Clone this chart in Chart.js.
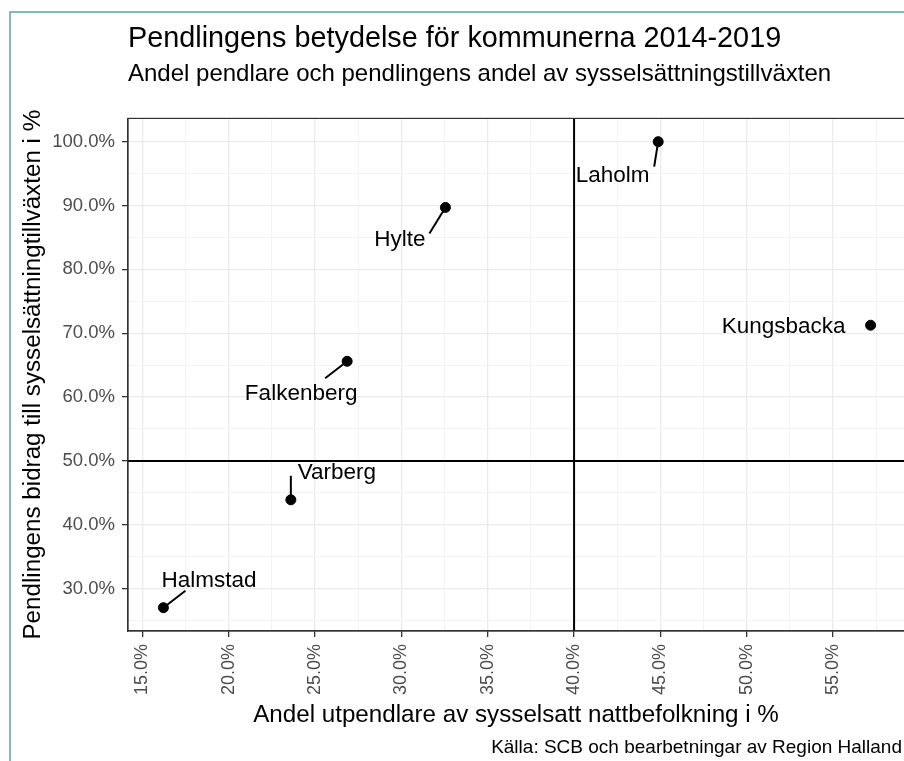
<!DOCTYPE html>
<html>
<head>
<meta charset="utf-8">
<script src="https://cdn.jsdelivr.net/npm/chart.js@4.4.1/dist/chart.umd.min.js"></script>
<style>
  html, body { margin: 0; padding: 0; background: #fff; overflow: hidden; }
  #wrap { position: relative; width: 912px; height: 761px; }
</style>
</head>
<body>
<div id="wrap"><canvas id="myChart" width="912" height="761"></canvas></div>
<script>
// data
const kommuner = ['Laholm', 'Hylte', 'Kungsbacka', 'Falkenberg', 'Varberg', 'Halmstad'];
const utpendlare = [44.87, 32.55, 57.17, 26.86, 23.6, 16.22];   // x, %
const bidrag = [100.0, 89.7, 71.25, 65.6, 43.9, 27.0];            // y, %
const xTicks = [15, 20, 25, 30, 35, 40, 45, 50, 55];
const yTicks = [30, 40, 50, 60, 70, 80, 90, 100];
const refX = 40;
const refY = 50;

const titleText = 'Pendlingens betydelse för kommunerna 2014-2019';
const subtitleText = 'Andel pendlare och pendlingens andel av sysselsättningstillväxten';
const xTitle = 'Andel utpendlare av sysselsatt nattbefolkning i %';
const yTitle = 'Pendlingens bidrag till sysselsättningtillväxten i %';
const caption = 'Källa: SCB och bearbetningar av Region Halland';

// label placement (pixels relative to the point): text centre x, baseline y, segment end
const labelPos = [
  { dx: -45.5, dy: 40, seg: [-4, 25] },
  { dx: -45.5, dy: 39, seg: [-16, 26] },
  { dx: -87, dy: 8, seg: null },
  { dx: -46, dy: 39, seg: [-22, 17] },
  { dx: 46, dy: -21, seg: [0, -24] },
  { dx: 45.5, dy: -21, seg: [22, -17] }
];

const FONT = '"Liberation Sans", Arial, sans-serif';
const xMin = 14.17, xMax = 59.22;
const yMin = 23.35, yMax = 103.65;

const points = utpendlare.map((v, i) => ({ x: v, y: bidrag[i] }));

function stepTicks(min, max, step) {
  const out = [];
  for (let v = Math.ceil(min / step) * step; v <= max + 1e-9; v += step) out.push({ value: +v.toFixed(2) });
  return out;
}
function isMajor(v, list) { return list.some(t => Math.abs(t - v) < 1e-6); }

const decorPlugin = {
  id: 'decor',
  beforeDraw(chart) {
    const c = chart.ctx;
    c.save();
    c.fillStyle = '#fff';
    c.fillRect(0, 0, chart.width, chart.height);
    // frame
    c.strokeStyle = '#55a79f';
    c.lineWidth = 1.5;
    c.beginPath();
    c.moveTo(10, chart.height);
    c.lineTo(10, 12);
    c.lineTo(chart.width, 12);
    c.stroke();
    c.restore();
  },
  afterDraw(chart) {
    const c = chart.ctx;
    const xs = chart.scales.x, ys = chart.scales.y;
    const area = chart.chartArea;
    c.save();
    // panel border
    c.strokeStyle = '#333';
    c.lineWidth = 1.2;
    c.strokeRect(area.left, area.top, area.right - area.left, area.bottom - area.top);

    c.fillStyle = '#000';
    c.textBaseline = 'alphabetic';
    c.font = '28.8px ' + FONT;
    c.textAlign = 'left';
    c.fillText(titleText, 128, 47);
    c.font = '24px ' + FONT;
    c.fillText(subtitleText, 128, 81);

    c.font = '24.2px ' + FONT;
    c.textAlign = 'center';
    c.fillText(xTitle, 516, 722);
    c.save();
    c.translate(40, (area.top + area.bottom) / 2);
    c.rotate(-Math.PI / 2);
    c.fillText(yTitle, 0, 0);
    c.restore();

    c.font = '19px ' + FONT;
    c.textAlign = 'right';
    c.fillText(caption, 902, 753);

    // point labels with segments
    c.font = '22.5px ' + FONT;
    c.textAlign = 'center';
    c.strokeStyle = '#000';
    c.lineWidth = 2;
    kommuner.forEach((name, i) => {
      const px = xs.getPixelForValue(utpendlare[i]);
      const py = ys.getPixelForValue(bidrag[i]);
      const p = labelPos[i];
      if (p.seg) {
        c.beginPath();
        c.moveTo(px, py);
        c.lineTo(px + p.seg[0], py + p.seg[1]);
        c.stroke();
      }
      c.fillText(name, px + p.dx, py + p.dy);
    });
    c.restore();
  }
};

const ctx = document.getElementById('myChart').getContext('2d');
const myChart = new Chart(ctx, {
  type: 'scatter',
  data: {
    datasets: [
      {
        label: 'ref x',
        type: 'line',
        data: [{ x: refX, y: yMin }, { x: refX, y: yMax }],
        borderColor: '#000',
        borderWidth: 2,
        pointRadius: 0,
        order: 2
      },
      {
        label: 'ref y',
        type: 'line',
        data: [{ x: xMin, y: refY }, { x: xMax + 1, y: refY }],
        borderColor: '#000',
        borderWidth: 2,
        pointRadius: 0,
        order: 2
      },
      {
        label: 'Kommuner',
        data: points,
        backgroundColor: '#000',
        borderColor: '#000',
        pointRadius: 5,
        order: 1
      }
    ]
  },
  options: {
    responsive: false,
    animation: false,
    layout: { padding: { top: 118.4, right: 3, left: 0, bottom: 0 } },
    plugins: {
      legend: { display: false },
      tooltip: { enabled: false },
      title: { display: false }
    },
    scales: {
      x: {
        type: 'linear',
        min: xMin,
        max: xMax,
        afterBuildTicks(scale) { scale.ticks = stepTicks(xMin, xMax, 2.5); },
        afterFit(scale) { scale.height = 130; },
        border: { display: true, color: '#333', width: 1.2 },
        grid: {
          color: c => isMajor(c.tick.value, xTicks) ? '#ebebeb' : '#f3f3f3',
          lineWidth: c => isMajor(c.tick.value, xTicks) ? 1.3 : 1,
          tickColor: c => isMajor(c.tick.value, xTicks) ? '#333' : 'rgba(0,0,0,0)',
          tickLength: 6,
          drawOnChartArea: true
        },
        ticks: {
          autoSkip: false,
          minRotation: 90,
          maxRotation: 90,
          padding: 7,
          color: '#4d4d4d',
          font: { family: FONT, size: 18 },
          callback: v => isMajor(v, xTicks) ? v.toFixed(1) + '%' : ''
        }
      },
      y: {
        type: 'linear',
        min: yMin,
        max: yMax,
        afterBuildTicks(scale) { scale.ticks = stepTicks(yMin, yMax, 5); },
        afterFit(scale) { scale.width = 128; },
        border: { display: true, color: '#333', width: 1.2 },
        grid: {
          color: c => isMajor(c.tick.value, yTicks) ? '#ebebeb' : '#f3f3f3',
          lineWidth: c => isMajor(c.tick.value, yTicks) ? 1.3 : 1,
          tickColor: c => isMajor(c.tick.value, yTicks) ? '#333' : 'rgba(0,0,0,0)',
          tickLength: 6
        },
        ticks: {
          autoSkip: false,
          padding: 7,
          color: '#4d4d4d',
          font: { family: FONT, size: 18.5 },
          callback: v => isMajor(v, yTicks) ? v.toFixed(1) + '%' : ''
        }
      }
    }
  },
  plugins: [decorPlugin]
});
</script>
</body>
</html>
